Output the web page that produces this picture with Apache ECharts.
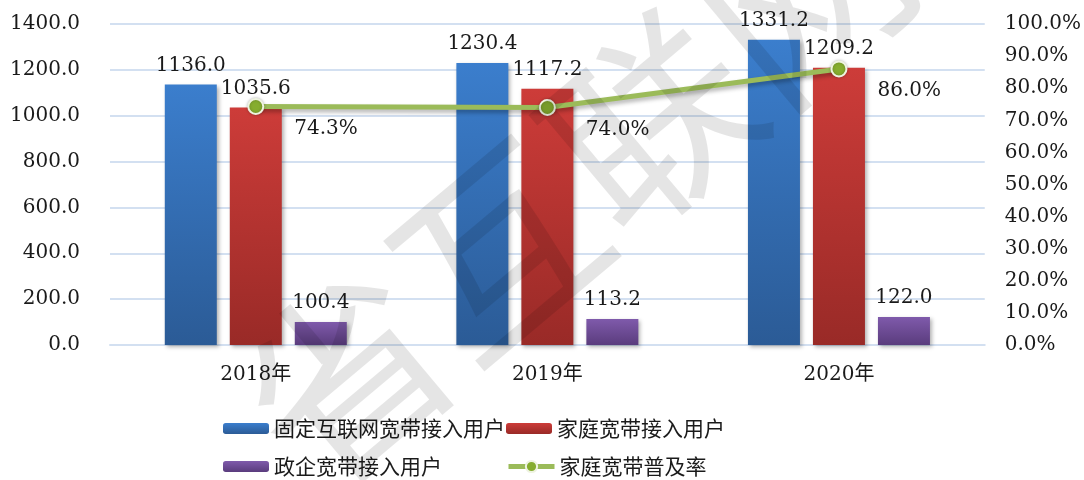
<!DOCTYPE html>
<html>
<head>
<meta charset="utf-8">
<script src="https://cdn.jsdelivr.net/npm/echarts@6/dist/echarts.min.js"></script>
<style>
  html, body { margin: 0; padding: 0; background: #fff; }
  #chart { width: 1084px; height: 480px; }
</style>
</head>
<body>
<div id="chart"></div>
<script>
// 数据
var years = ["2018年", "2019年", "2020年"];
var fixedUsers = [1136.0, 1230.4, 1331.2];   // 固定互联网宽带接入用户
var homeUsers = [1035.6, 1117.2, 1209.2];    // 家庭宽带接入用户
var govUsers = [100.4, 113.2, 122.0];        // 政企宽带接入用户
var homeRate = [74.3, 74.0, 86.0];           // 家庭宽带普及率 (%)

var FONT = "DejaVu Serif, Noto Sans CJK SC";
var textColor = "#1a1a1a";

function grad(top, bottom) {
  return new echarts.graphic.LinearGradient(0, 0, 0, 1, [
    { offset: 0, color: top },
    { offset: 1, color: bottom }
  ]);
}

var barShadow = {
  shadowColor: "rgba(0,0,0,0.3)",
  shadowBlur: 4,
  shadowOffsetX: 2,
  shadowOffsetY: 2
};

var barLabel = {
  show: true,
  position: "top",
  distance: 9,
  color: textColor,
  fontFamily: FONT,
  fontSize: 20,
  formatter: function (p) { return p.value.toFixed(1); }
};

// 图例：两列两行，每项单独放
function legendItem(name, left, top, h) {
  return {
    left: left, top: top,
    itemWidth: 46, itemHeight: h || 11, itemGap: 0,
    data: [name],
    lineStyle: { width: 5 },
    textStyle: { fontFamily: "Noto Sans CJK SC", fontSize: 21, color: textColor }
  };
}

var chart = echarts.init(document.getElementById("chart"));
chart.setOption({
  backgroundColor: "#fff",
  animation: false,
  grid: { left: 110, right: 94, top: 24, bottom: 135 },
  legend: [
    legendItem("固定互联网宽带接入用户", 218, 413),
    legendItem("家庭宽带接入用户", 501, 413),
    legendItem("政企宽带接入用户", 218, 451),
    legendItem("家庭宽带普及率", 501, 451, 14)
  ],
  xAxis: {
    type: "category",
    data: years,
    axisTick: { show: false },
    axisLine: { lineStyle: { color: "#d3e0f1", width: 2 } },
    axisLabel: { margin: 20, color: textColor, fontFamily: FONT, fontSize: 20 }
  },
  yAxis: [
    {
      type: "value", min: 0, max: 1400, interval: 200,
      axisLine: { show: false }, axisTick: { show: false },
      splitLine: { lineStyle: { color: "#d3e0f1", width: 2 } },
      axisLabel: {
        margin: 30, color: textColor, fontFamily: FONT, fontSize: 20,
        formatter: function (v) { return v.toFixed(1); }
      }
    },
    {
      type: "value", min: 0, max: 100, interval: 10,
      axisLine: { show: false }, axisTick: { show: false },
      splitLine: { show: false },
      axisLabel: {
        margin: 20, color: textColor, fontFamily: FONT, fontSize: 20,
        formatter: function (v) { return v.toFixed(1) + "%"; }
      }
    }
  ],
  series: [
    {
      name: "固定互联网宽带接入用户", type: "bar", data: fixedUsers,
      barWidth: 52, barGap: "25%",
      itemStyle: Object.assign({ color: grad("#3b7ecd", "#2b5b96") }, barShadow),
      label: barLabel
    },
    {
      name: "家庭宽带接入用户", type: "bar", data: homeUsers,
      barWidth: 52, barGap: "25%",
      itemStyle: Object.assign({ color: grad("#cd3c39", "#992a27") }, barShadow),
      label: barLabel
    },
    {
      name: "政企宽带接入用户", type: "bar", data: govUsers,
      barWidth: 52, barGap: "25%",
      itemStyle: Object.assign({ color: grad("#7f5aab", "#5a3c7d") }, barShadow),
      label: barLabel
    },
    {
      name: "家庭宽带普及率", type: "line", yAxisIndex: 1, data: homeRate,
      symbol: "circle", symbolSize: 15, z: 5,
      lineStyle: {
        color: "#9bbb59", width: 5,
        shadowColor: "rgba(0,0,0,0.3)", shadowBlur: 4, shadowOffsetY: 3
      },
      itemStyle: {
        color: "#86ad2f", borderColor: "#eef3e0", borderWidth: 2,
        shadowColor: "rgba(0,0,0,0.25)", shadowBlur: 3
      },
      label: {
        show: true, position: "right", distance: 30, offset: [0, 22],
        color: textColor, fontFamily: FONT, fontSize: 20,
        formatter: function (p) { return p.value.toFixed(1) + "%"; }
      }
    }
  ],
  graphic: [
    {
      type: "text", z: 100, silent: true,
      x: 575, y: 185, rotation: Math.PI * 40 / 180,
      style: {
        text: "省互联网",
        fontFamily: "Noto Sans CJK SC", fontSize: 200,
        fill: "rgba(0,0,0,0.10)",
        align: "center", verticalAlign: "middle"
      }
    }
  ]
});
</script>
</body>
</html>
